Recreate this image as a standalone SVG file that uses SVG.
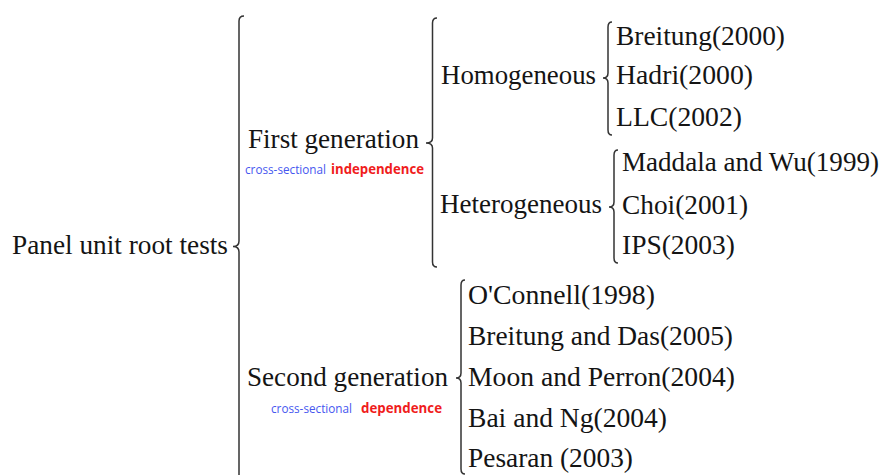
<svg xmlns="http://www.w3.org/2000/svg" width="885" height="475" viewBox="0 0 885 475">
<style>
.t{font-family:"Liberation Serif","Times New Roman",serif;font-size:28px;fill:#141414}
.s{font-family:"Open Sans","Liberation Sans",sans-serif;font-size:13.5px}
.b{fill:#4657ef}
.r{fill:#f01c1c;font-weight:bold}
.br{fill:none;stroke:#333;stroke-width:1.5}
</style>
<rect width="885" height="475" fill="#fff"/>
<g id="connectors">
<path class="br" d="M244,16 Q239,16 239,21 L239,241 Q239,246.5 233,246.5 Q239,246.5 239,252 L239,475"/>
<path class="br" d="M437,18 Q432.5,18 432.5,23 L432.5,138 Q432.5,143 426,143 Q432.5,143 432.5,148 L432.5,262 Q432.5,267 437,267"/>
<path class="br" d="M612,22 Q608,22 608,27 L608,73 Q608,78 603,78 Q608,78 608,83 L608,130 Q608,135 612,135"/>
<path class="br" d="M618,150 Q614,150 614,155 L614,202 Q614,207 609,207 Q614,207 614,212 L614,258 Q614,263 618,263"/>
<path class="br" d="M465,280 Q461,280 461,285 L461,373 Q461,378 456,378 Q461,378 461,383 L461,469 Q461,474 465,474"/>
</g>
<g id="root"><text class="t" x="12" y="254" textLength="216" lengthAdjust="spacingAndGlyphs">Panel unit root tests</text></g>
<g id="first">
<text class="t" x="248" y="148" textLength="171" lengthAdjust="spacingAndGlyphs">First generation</text>
<text class="s b" x="245" y="174.3" textLength="81" lengthAdjust="spacingAndGlyphs">cross-sectional</text>
<text class="s r" x="331" y="174.3" textLength="93" lengthAdjust="spacingAndGlyphs">independence</text>
</g>
<g id="second">
<text class="t" x="247" y="385.5" textLength="201" lengthAdjust="spacingAndGlyphs">Second generation</text>
<text class="s b" x="271" y="413.3" textLength="81" lengthAdjust="spacingAndGlyphs">cross-sectional</text>
<text class="s r" x="361" y="413.3" textLength="81" lengthAdjust="spacingAndGlyphs">dependence</text>
</g>
<g id="homogeneous"><text class="t" x="441" y="84" textLength="155" lengthAdjust="spacingAndGlyphs">Homogeneous</text></g>
<g id="heterogeneous"><text class="t" x="440" y="213" textLength="162" lengthAdjust="spacingAndGlyphs">Heterogeneous</text></g>
<g id="breitung2000"><text class="t" x="616" y="45" textLength="169" lengthAdjust="spacingAndGlyphs">Breitung(2000)</text></g>
<g id="hadri"><text class="t" x="616" y="84" textLength="137" lengthAdjust="spacingAndGlyphs">Hadri(2000)</text></g>
<g id="llc"><text class="t" x="616" y="126" textLength="126" lengthAdjust="spacingAndGlyphs">LLC(2002)</text></g>
<g id="maddala"><text class="t" x="622" y="171" style="font-size:26.8px" textLength="257" lengthAdjust="spacingAndGlyphs">Maddala and Wu(1999)</text></g>
<g id="choi"><text class="t" x="622" y="214" textLength="126" lengthAdjust="spacingAndGlyphs">Choi(2001)</text></g>
<g id="ips"><text class="t" x="622" y="254" textLength="113" lengthAdjust="spacingAndGlyphs">IPS(2003)</text></g>
<g id="oconnell"><text class="t" x="468" y="304" textLength="187" lengthAdjust="spacingAndGlyphs">O'Connell(1998)</text></g>
<g id="breitungdas"><text class="t" x="468" y="345" textLength="265" lengthAdjust="spacingAndGlyphs">Breitung and Das(2005)</text></g>
<g id="moon"><text class="t" x="468" y="386" textLength="267" lengthAdjust="spacingAndGlyphs">Moon and Perron(2004)</text></g>
<g id="bai"><text class="t" x="468" y="427" textLength="199" lengthAdjust="spacingAndGlyphs">Bai and Ng(2004)</text></g>
<g id="pesaran"><text class="t" x="468" y="467" textLength="165" lengthAdjust="spacingAndGlyphs">Pesaran (2003)</text></g>
</svg>
